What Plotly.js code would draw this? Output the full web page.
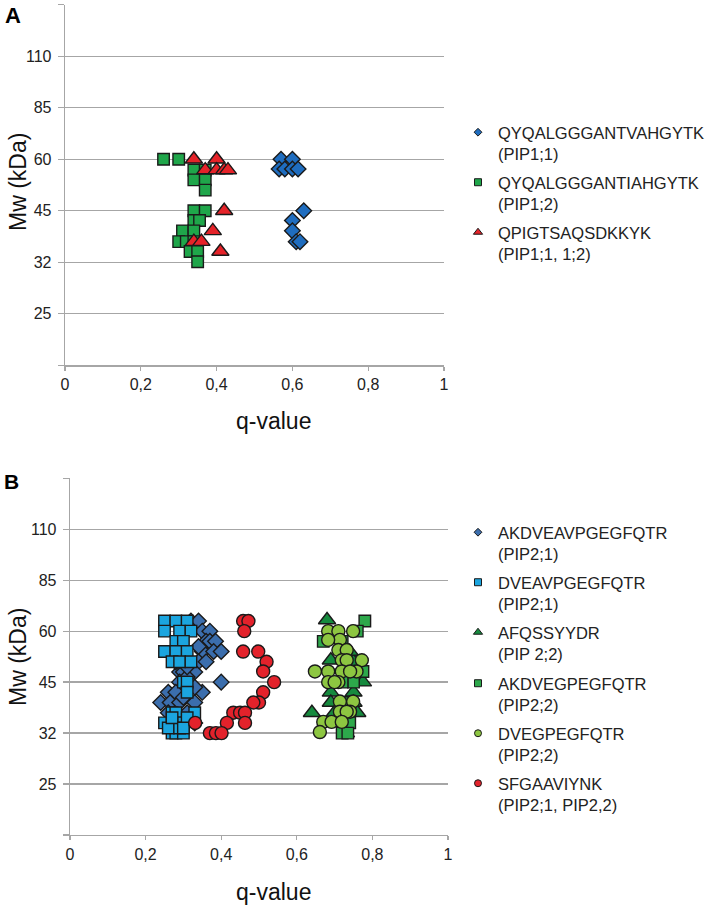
<!DOCTYPE html>
<html>
<head>
<meta charset="utf-8">
<script src="https://cdn.plot.ly/plotly-3.0.1.min.js"></script>
<style>html,body{margin:0;padding:0;background:#fff;}#chart{width:710px;height:910px;}</style>
</head>
<body>
<div id="chart"></div>
<script>
// ---------- DATA ----------
// y values are in gel-ladder axis units: 1=25, 2=32, 3=45, 4=60, 5=85, 6=110 kDa
const yTickVals = [0, 1, 2, 3, 4, 5, 6, 7];
const yTickText = ['', '25', '32', '45', '60', '85', '110', ''];
const xTickVals = [0, 0.2, 0.4, 0.6, 0.8, 1];
const xTickText = ['0', '0,2', '0,4', '0,6', '0,8', '1'];

// Panel A
const aNames = ['QYQALGGGANTVAHGYTK<br>(PIP1;1)', 'QYQALGGGANTIAHGYTK<br>(PIP1;2)', 'QPIGTSAQSDKKYK<br>(PIP1;1, 1;2)'];
const aPip11_q = [0.57, 0.60, 0.565, 0.58, 0.60, 0.615, 0.63, 0.60, 0.60, 0.61, 0.62];
const aPip11_y = [4.0, 4.0, 3.81, 3.81, 3.81, 3.81, 3.0, 2.81, 2.61, 2.40, 2.40];
const aPip12_q = [0.26, 0.30, 0.34, 0.37, 0.34, 0.37, 0.37, 0.34, 0.37, 0.34, 0.355, 0.31, 0.34, 0.30, 0.32, 0.34, 0.33, 0.35, 0.35];
const aPip12_y = [4.0, 4.0, 3.79, 3.79, 3.60, 3.60, 3.40, 3.0, 3.0, 2.81, 2.81, 2.61, 2.61, 2.40, 2.40, 2.40, 2.21, 2.21, 2.01];
const aBoth_q = [0.34, 0.37, 0.40, 0.40, 0.42, 0.43, 0.42, 0.39, 0.34, 0.36, 0.41];
const aBoth_y = [4.0, 3.79, 4.0, 3.79, 3.79, 3.79, 3.0, 2.61, 2.40, 2.40, 2.21];

// Panel B
const bNames = ['AKDVEAVPGEGFQTR<br>(PIP2;1)', 'DVEAVPGEGFQTR<br>(PIP2;1)', 'AFQSSYYDR<br>(PIP 2;2)',
                'AKDVEGPEGFQTR<br>(PIP2;2)', 'DVEGPEGFQTR<br>(PIP2;2)', 'SFGAAVIYNK<br>(PIP2;1, PIP2,2)'];
const bAkdvea_q = [0.32, 0.34, 0.35, 0.37, 0.36, 0.37, 0.385, 0.35, 0.38, 0.40, 0.34, 0.36, 0.29, 0.30, 0.33, 0.29, 0.40, 0.26, 0.28, 0.35, 0.24, 0.265, 0.29, 0.33, 0.26, 0.31, 0.27, 0.29, 0.33, 0.31, 0.33, 0.28, 0.31, 0.30, 0.34];
const bAkdvea_y = [4.2, 4.2, 4.0, 4.0, 3.8, 3.8, 3.8, 3.6, 3.6, 3.6, 3.4, 3.4, 3.2, 3.2, 3.2, 3.0, 3.0, 2.8, 2.8, 2.8, 2.6, 2.6, 2.6, 2.6, 2.4, 2.4, 2.2, 2.2, 2.2, 3.1, 2.9, 3.4, 3.3, 2.7, 3.7];
const bDvea_q = [0.25, 0.28, 0.31, 0.25, 0.29, 0.32, 0.28, 0.30, 0.25, 0.28, 0.31, 0.27, 0.29, 0.32, 0.30, 0.31, 0.31, 0.27, 0.28, 0.33, 0.25, 0.27, 0.28, 0.30, 0.27, 0.28, 0.30, 0.26, 0.29, 0.31, 0.27, 0.30];
const bDvea_y = [4.2, 4.2, 4.2, 4.0, 4.0, 4.0, 3.8, 3.8, 3.6, 3.6, 3.6, 3.4, 3.4, 3.4, 3.0, 3.0, 2.8, 2.4, 2.4, 2.4, 2.2, 2.2, 2.2, 2.2, 2.0, 2.0, 2.0, 2.1, 2.1, 2.3, 2.3, 2.1];
const bAfq_q = [0.68, 0.69, 0.75, 0.775, 0.69, 0.75, 0.69, 0.75, 0.64, 0.70, 0.76, 0.73, 0.72, 0.74];
const bAfq_y = [4.22, 3.43, 3.40, 3.0, 2.80, 2.80, 2.60, 2.60, 2.40, 2.40, 2.40, 2.0, 2.2, 3.6];
const bAkdveg_q = [0.78, 0.67, 0.76, 0.72, 0.775, 0.75, 0.72, 0.74, 0.72, 0.735, 0.73];
const bAkdveg_y = [4.2, 3.8, 4.0, 3.8, 3.21, 3.0, 3.0, 2.2, 2.0, 2.0, 2.6];
const bDveg_q = [0.683, 0.71, 0.749, 0.714, 0.683, 0.71, 0.732, 0.719, 0.732, 0.772, 0.648, 0.683, 0.719, 0.758, 0.741, 0.683, 0.71, 0.70, 0.714, 0.749, 0.741, 0.714, 0.732, 0.67, 0.692, 0.719, 0.661];
const bDveg_y = [4.0, 4.0, 4.0, 3.83, 3.83, 3.63, 3.63, 3.43, 3.43, 3.43, 3.21, 3.21, 3.21, 3.21, 3.21, 3.0, 3.0, 3.0, 2.62, 2.62, 2.42, 2.42, 2.42, 2.22, 2.22, 2.22, 2.02];
const bSfg_q = [0.458, 0.472, 0.461, 0.458, 0.498, 0.520, 0.511, 0.540, 0.511, 0.500, 0.485, 0.432, 0.450, 0.463, 0.415, 0.463, 0.331, 0.370, 0.386, 0.401];
const bSfg_y = [4.20, 4.20, 4.00, 3.60, 3.60, 3.40, 3.21, 3.00, 2.80, 2.60, 2.60, 2.40, 2.40, 2.40, 2.20, 2.20, 2.20, 2.00, 2.00, 2.00];

// ---------- LAYOUT HELPERS ----------
const W = 710, H = 910;
const px = v => v / W;
const py = v => 1 - v / H;
const FONT = 'Liberation Sans, Arial, Helvetica, sans-serif';
const OUT = '#1a1a1a';

function pts(q, y, xa, ya, symbol, color, size) {
  return {type: 'scatter', mode: 'markers', x: q, y: y, xaxis: xa, yaxis: ya, showlegend: false, hoverinfo: 'skip',
    marker: {symbol: symbol, color: color, size: size, line: {color: OUT, width: 1.4}}};
}
function leg(name, legendId, xa, ya, symbol, color, size) {
  return {type: 'scatter', mode: 'markers', x: [null], y: [null], xaxis: xa, yaxis: ya, name: name,
    legend: legendId, showlegend: true, hoverinfo: 'skip',
    marker: {symbol: symbol, color: color, size: size, line: {color: OUT, width: 1}}};
}

const cA = ['#1f6dbf', '#1fa64a', '#e52329'];
const cB = ['#3b6ead', '#1ba5df', '#168a3e', '#2da84b', '#8dc641', '#e3222b'];

const traces = [
  pts(aPip11_q, aPip11_y, 'x', 'y', 'diamond', cA[0], 12),
  pts(aPip12_q, aPip12_y, 'x', 'y', 'square', cA[1], 11.5),
  pts(aBoth_q, aBoth_y, 'x', 'y', 'triangle-up', cA[2], 15),
  pts(bAkdvea_q, bAkdvea_y, 'x2', 'y2', 'diamond', cB[0], 12),
  pts(bDvea_q, bDvea_y, 'x2', 'y2', 'square', cB[1], 11.5),
  pts(bAfq_q, bAfq_y, 'x2', 'y2', 'triangle-up', cB[2], 15),
  pts(bAkdveg_q, bAkdveg_y, 'x2', 'y2', 'square', cB[3], 11.5),
  pts(bDveg_q, bDveg_y, 'x2', 'y2', 'circle', cB[4], 13),
  pts(bSfg_q, bSfg_y, 'x2', 'y2', 'circle', cB[5], 13),
  leg(aNames[0], 'legend', 'x', 'y', 'diamond', cA[0], 6),
  leg(aNames[1], 'legend2', 'x', 'y', 'square', cA[1], 7),
  leg(aNames[2], 'legend3', 'x', 'y', 'triangle-up', cA[2], 8),
  leg(bNames[0], 'legend4', 'x2', 'y2', 'diamond', cB[0], 6),
  leg(bNames[1], 'legend5', 'x2', 'y2', 'square', cB[1], 7),
  leg(bNames[2], 'legend6', 'x2', 'y2', 'triangle-up', cB[2], 8),
  leg(bNames[3], 'legend7', 'x2', 'y2', 'square', cB[3], 7),
  leg(bNames[4], 'legend8', 'x2', 'y2', 'circle', cB[4], 7),
  leg(bNames[5], 'legend9', 'x2', 'y2', 'circle', cB[5], 7)
];

const GRID = '#a6a6a6';
function xAxis(d, anchor) {
  return {domain: d, anchor: anchor, range: [0, 1], tickvals: xTickVals, ticktext: xTickText,
    showgrid: false, zeroline: false, showline: true, linecolor: GRID, linewidth: 1.3,
    ticks: 'outside', ticklen: 4, tickcolor: GRID, tickwidth: 1.3,
    tickfont: {family: FONT, size: 16, color: '#222'}, fixedrange: true};
}
function yAxis(d, anchor) {
  return {domain: d, anchor: anchor, range: [0, 7], tickvals: yTickVals, ticktext: yTickText,
    showgrid: true, gridcolor: GRID, gridwidth: 1.3, zeroline: false, showline: true, linecolor: GRID, linewidth: 1.3,
    ticks: 'outside', ticklen: 6, tickcolor: GRID, tickwidth: 1.3, ticklabelstandoff: 3,
    tickfont: {family: FONT, size: 16, color: '#222'}, fixedrange: true};
}

const legendBase = {xanchor: 'left', yanchor: 'top', bgcolor: 'rgba(0,0,0,0)', borderwidth: 0,
  valign: 'top', itemclick: false, itemdoubleclick: false, font: {family: FONT, size: 16.5, color: '#222'}};
const legPos = [[132, 'legend'], [182, 'legend2'], [232, 'legend3'],
                [532, 'legend4'], [582, 'legend5'], [632, 'legend6'], [683, 'legend7'], [733, 'legend8'], [783, 'legend9']];

const layout = {
  width: W, height: H, margin: {l: 0, r: 0, t: 0, b: 0},
  paper_bgcolor: '#fff', plot_bgcolor: '#fff', showlegend: true,
  xaxis: xAxis([px(65), px(444)], 'y'),
  yaxis: yAxis([py(365.3), py(4.7)], 'x'),
  xaxis2: xAxis([px(70), px(448)], 'y2'),
  yaxis2: yAxis([py(835), py(478.3)], 'x2'),
  annotations: [
    {text: '<b>A</b>', x: px(13), y: py(15), xref: 'paper', yref: 'paper', showarrow: false, xanchor: 'center', yanchor: 'middle', font: {family: FONT, size: 22, color: '#000'}},
    {text: '<b>B</b>', x: px(11), y: py(481), xref: 'paper', yref: 'paper', showarrow: false, xanchor: 'center', yanchor: 'middle', font: {family: FONT, size: 21, color: '#000'}},
    {text: 'q-value', x: px(273), y: py(421), xref: 'paper', yref: 'paper', showarrow: false, xanchor: 'center', yanchor: 'middle', font: {family: FONT, size: 23, color: '#111'}},
    {text: 'q-value', x: px(273), y: py(892), xref: 'paper', yref: 'paper', showarrow: false, xanchor: 'center', yanchor: 'middle', font: {family: FONT, size: 23, color: '#111'}},
    {text: 'Mw (kDa)', x: px(18), y: py(182), xref: 'paper', yref: 'paper', showarrow: false, textangle: -90, xanchor: 'center', yanchor: 'middle', font: {family: FONT, size: 23, color: '#111'}},
    {text: 'Mw (kDa)', x: px(18), y: py(657), xref: 'paper', yref: 'paper', showarrow: false, textangle: -90, xanchor: 'center', yanchor: 'middle', font: {family: FONT, size: 23, color: '#111'}}
  ]
};
legPos.forEach(([cy, id]) => {
  layout[id] = Object.assign({}, legendBase, {x: px(458), y: py(cy - 17)});
});

Plotly.newPlot('chart', traces, layout, {staticPlot: true, displayModeBar: false});
</script>
</body>
</html>
